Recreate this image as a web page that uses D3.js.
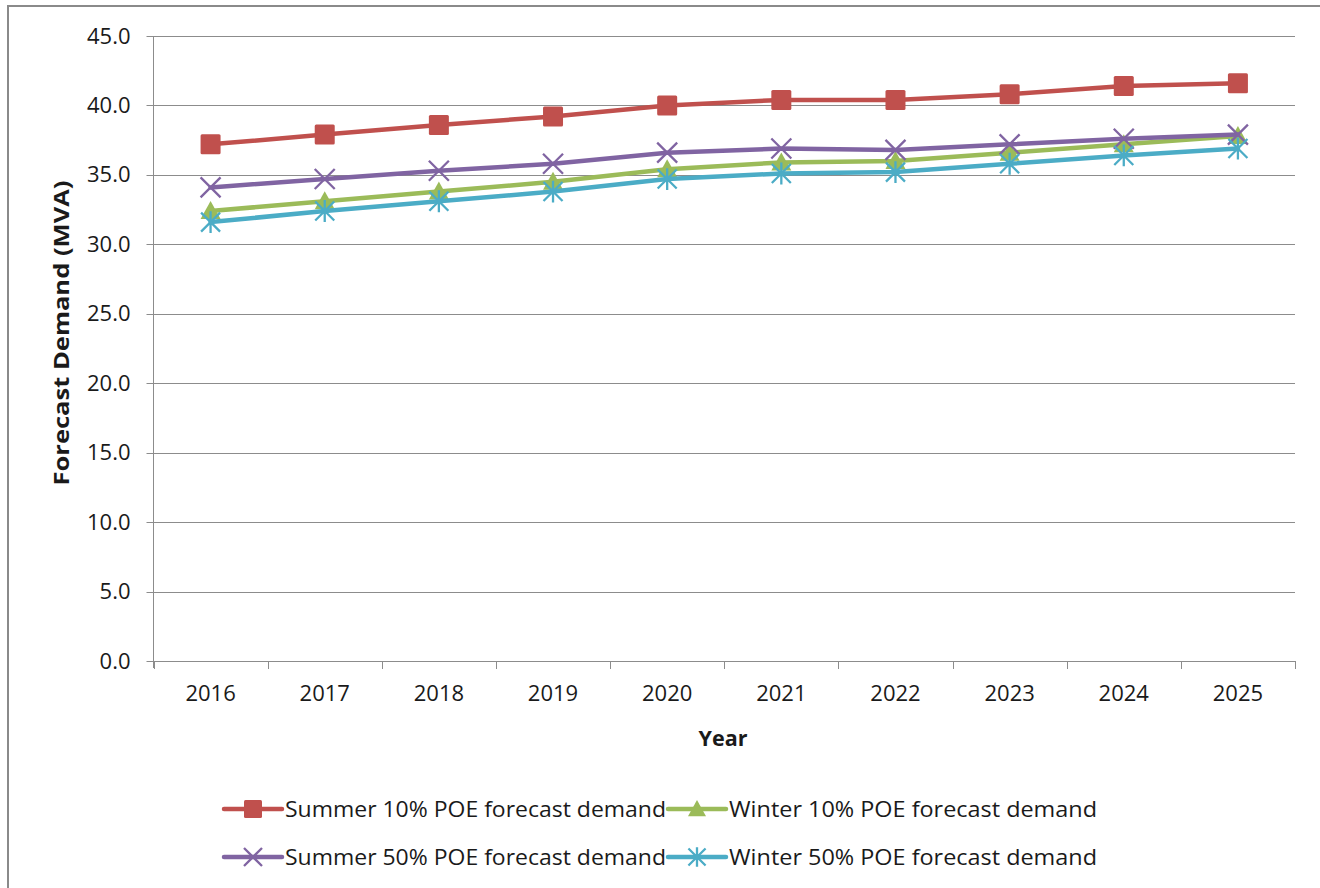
<!DOCTYPE html>
<html><head><meta charset="utf-8">
<script src="https://cdn.jsdelivr.net/npm/d3@7"></script>
<style>
html,body{margin:0;padding:0;background:#fff;}
svg{display:block;}
text{font-family:"Open Sans",sans-serif;fill:#1a1a1a;}
</style></head>
<body>
<svg id="c" width="1320" height="888"></svg>
<script>
const years = ["2016","2017","2018","2019","2020","2021","2022","2023","2024","2025"];
const summer10 = [37.2, 37.9, 38.6, 39.2, 40.0, 40.4, 40.4, 40.8, 41.4, 41.6];
const winter10 = [32.4, 33.1, 33.8, 34.5, 35.4, 35.9, 36.0, 36.6, 37.2, 37.8];
const summer50 = [34.1, 34.7, 35.3, 35.8, 36.6, 36.9, 36.8, 37.2, 37.6, 37.9];
const winter50 = [31.6, 32.4, 33.1, 33.8, 34.7, 35.1, 35.2, 35.8, 36.4, 36.9];
const yTicks = [0,5,10,15,20,25,30,35,40,45];
const seriesNames = ["Summer 10% POE forecast demand","Winter 10% POE forecast demand","Summer 50% POE forecast demand","Winter 50% POE forecast demand"];

const series = [
  {name: seriesNames[0], values: summer10, color: "#C0504D", marker: "square"},
  {name: seriesNames[1], values: winter10, color: "#9BBB59", marker: "triangle"},
  {name: seriesNames[2], values: summer50, color: "#8064A2", marker: "x"},
  {name: seriesNames[3], values: winter50, color: "#4BACC6", marker: "asterisk"}
];
const svg = d3.select("#c");
const FS = 22;

svg.append("rect").attr("x",8).attr("y",6).attr("width",1330).attr("height",900)
  .attr("fill","none").attr("stroke","#8a8a8a").attr("stroke-width",2);

const L = 153.5, R = 1295, T = 36, B = 661;
const x = d3.scaleBand().domain(years).range([L, R]);
const y = d3.scaleLinear().domain([0,45]).range([B, T]);

svg.append("g").selectAll("line").data(yTicks).join("line")
  .attr("x1", L-7).attr("x2", R)
  .attr("y1", d=>Math.round(y(d))+0.5).attr("y2", d=>Math.round(y(d))+0.5)
  .attr("stroke","#8c8c8c").attr("stroke-width",1);

const yAxis = svg.append("g").attr("transform",`translate(${L},0)`)
  .call(d3.axisLeft(y).tickValues(yTicks).tickFormat(d3.format(".1f")).tickSize(0).tickPadding(23));
yAxis.select(".domain").remove();
yAxis.attr("font-size",FS).attr("font-family","'Open Sans', sans-serif");
yAxis.selectAll("text").style("font-size",FS+"px").attr("fill","#1a1a1a");
svg.append("line").attr("x1",L).attr("x2",L).attr("y1",T).attr("y2",B+7).attr("stroke","#8c8c8c");

const xAxis = svg.append("g").attr("transform",`translate(0,${Math.round(B)+0.5})`)
  .call(d3.axisBottom(x).tickSize(0).tickPadding(24));
xAxis.select(".domain").remove();
xAxis.attr("font-size",FS).attr("font-family","'Open Sans', sans-serif");
xAxis.selectAll("text").style("font-size",FS+"px").attr("fill","#1a1a1a");
svg.append("g").selectAll("line").data(years.concat(["end"])).join("line")
  .attr("x1",(d,i)=>Math.round(L + i*x.step())+0.5).attr("x2",(d,i)=>Math.round(L + i*x.step())+0.5)
  .attr("y1",B).attr("y2",B+8).attr("stroke","#8c8c8c");
svg.append("line").attr("x1",L).attr("x2",R).attr("y1",Math.round(B)+0.5).attr("y2",Math.round(B)+0.5).attr("stroke","#8c8c8c");

svg.append("text").attr("x",723).attr("y",746).attr("text-anchor","middle")
  .attr("font-size",FS).attr("font-weight","bold").attr("textLength",49).attr("lengthAdjust","spacingAndGlyphs").text("Year");
svg.append("text").attr("transform","translate(69,333) rotate(-90)").attr("text-anchor","middle")
  .attr("font-size",FS).attr("font-weight","bold").attr("textLength",305).attr("lengthAdjust","spacingAndGlyphs").text("Forecast Demand (MVA)");

function drawMarker(g, type, color, cx, cy, scale){
  const s = scale || 1;
  if(type==="square"){
    g.append("rect").attr("x",cx-10*s).attr("y",cy-10*s).attr("width",20*s).attr("height",20*s)
      .attr("rx",1.5).attr("fill",color);
  } else if(type==="triangle"){
    const h=10*s;
    g.append("path").attr("d",`M${cx},${cy-h} L${cx+h},${cy+h*0.8} L${cx-h},${cy+h*0.8} Z`).attr("fill",color);
  } else if(type==="x"){
    const h=10*s;
    g.append("path").attr("d",`M${cx-h},${cy-h}L${cx+h},${cy+h}M${cx-h},${cy+h}L${cx+h},${cy-h}`)
      .attr("stroke",color).attr("stroke-width",2.3).attr("fill","none");
  } else if(type==="asterisk"){
    const h=9.5*s;
    g.append("path").attr("d",`M${cx-h},${cy-h}L${cx+h},${cy+h}M${cx-h},${cy+h}L${cx+h},${cy-h}M${cx},${cy-h*1.15}L${cx},${cy+h*1.15}`)
      .attr("stroke",color).attr("stroke-width",2.3).attr("fill","none");
  }
}

const line = d3.line().x((d,i)=>x(years[i])+x.bandwidth()/2).y(d=>y(d));
series.forEach(s=>{
  const g = svg.append("g");
  g.append("path").attr("d",line(s.values)).attr("fill","none").attr("stroke",s.color)
    .attr("stroke-width",4.5).attr("stroke-linejoin","round").attr("stroke-linecap","round");
  s.values.forEach((v,i)=>drawMarker(g, s.marker, s.color, x(years[i])+x.bandwidth()/2, y(v)));
});

const legendPos = [[224,809],[668,809],[224,857],[668,857]];
const legendWidths = [381, 368, 381, 368];
series.forEach((s,i)=>{
  const [lx,ly] = legendPos[i];
  const g = svg.append("g");
  g.append("line").attr("x1",lx).attr("x2",lx+58).attr("y1",ly).attr("y2",ly)
    .attr("stroke",s.color).attr("stroke-width",4.5).attr("stroke-linecap","round");
  drawMarker(g, s.marker, s.color, lx+29, ly, 0.9);
  g.append("text").attr("x",lx+61).attr("y",ly+8).attr("font-size",FS)
    .attr("textLength",legendWidths[i]).attr("lengthAdjust","spacingAndGlyphs").text(s.name);
});
</script>
</body></html>
